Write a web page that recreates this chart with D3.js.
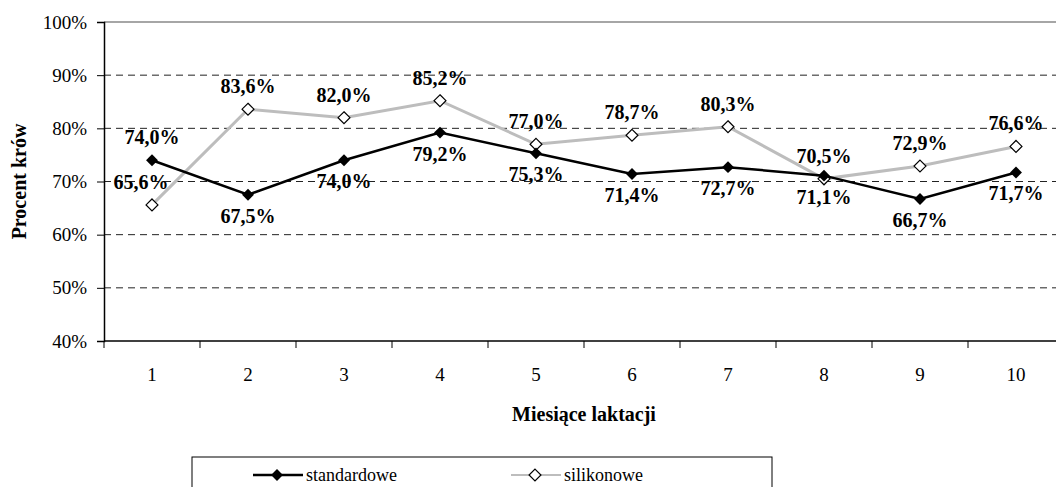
<!DOCTYPE html>
<html>
<head>
<meta charset="utf-8">
<script src="https://cdn.jsdelivr.net/npm/d3@7"></script>
<style>
  body { margin: 0; background: #fff; }
  svg text { font-family: "Liberation Serif", "Times New Roman", serif; }
</style>
</head>
<body>
<svg id="chart"></svg>
<script>
// data
const months = ["1", "2", "3", "4", "5", "6", "7", "8", "9", "10"];
const standardowe = [74.0, 67.5, 74.0, 79.2, 75.3, 71.4, 72.7, 71.1, 66.7, 71.7];
const silikonowe = [65.6, 83.6, 82.0, 85.2, 77.0, 78.7, 80.3, 70.5, 72.9, 76.6];
const yTicks = [40, 50, 60, 70, 80, 90, 100];
// where each data label sits relative to its marker
const stdLabelPos = ["above", "below", "below", "below", "below", "below", "below", "below", "below", "below"];
const silLabelPos = ["left", "above", "above", "above", "above", "above", "above", "above", "above", "above"];

const W = 1056, H = 487;
const margin = { top: 22, left: 104 };
const plotW = 960, plotH = 319;

const svg = d3.select('#chart').attr('width', W).attr('height', H);

const x = d3.scaleBand().domain(months).range([margin.left, margin.left + plotW]);
const y = d3.scaleLinear().domain([40, 100]).range([margin.top + plotH, margin.top]);
const cx = d => x(d) + x.bandwidth() / 2;
const fmt = v => v.toFixed(1).replace('.', ',') + '%';

// gridlines
svg.append('g').selectAll('line')
  .data(yTicks.filter(t => t > 40 && t < 100))
  .join('line')
  .attr('x1', margin.left).attr('x2', margin.left + plotW)
  .attr('y1', d => y(d)).attr('y2', d => y(d))
  .attr('stroke', '#222').attr('stroke-width', 1)
  .attr('stroke-dasharray', '7,5');

// plot area top border
svg.append('line')
  .attr('x1', margin.left).attr('x2', margin.left + plotW)
  .attr('y1', y(100)).attr('y2', y(100))
  .attr('stroke', '#888').attr('stroke-width', 1.5);

// y axis
const yAxis = d3.axisLeft(y).tickValues(yTicks).tickFormat(d => d + '%').tickSize(7).tickPadding(10);
const yG = svg.append('g').attr('transform', `translate(${margin.left},0)`).call(yAxis);
yG.select('.domain').attr('stroke', '#000').attr('stroke-width', 1.5);
yG.selectAll('.tick line').attr('stroke', '#000');
yG.selectAll('.tick text').attr('font-size', '19px').attr('fill', '#000');

// x axis (ticks between categories)
const xG = svg.append('g').attr('transform', `translate(0,${margin.top + plotH})`);
xG.append('line')
  .attr('x1', margin.left).attr('x2', margin.left + plotW)
  .attr('stroke', '#000').attr('stroke-width', 1.5);
xG.selectAll('.tk').data(months.concat(['end']))
  .join('line').attr('class', 'tk')
  .attr('x1', (d, i) => margin.left + i * x.bandwidth())
  .attr('x2', (d, i) => margin.left + i * x.bandwidth())
  .attr('y1', 0).attr('y2', 7)
  .attr('stroke', '#000');
xG.selectAll('text').data(months).join('text')
  .attr('x', d => cx(d)).attr('y', 40)
  .attr('text-anchor', 'middle')
  .attr('font-size', '19px')
  .text(d => d);

// axis titles
svg.append('text')
  .attr('x', margin.left + plotW / 2).attr('y', 421)
  .attr('text-anchor', 'middle')
  .attr('font-size', '20px').attr('font-weight', 'bold')
  .text('Miesiące laktacji');
svg.append('text')
  .attr('transform', `translate(26,${margin.top + plotH / 2}) rotate(-90)`)
  .attr('text-anchor', 'middle')
  .attr('font-size', '20px').attr('font-weight', 'bold')
  .text('Procent krów');

// lines
const line = d3.line().x((d, i) => cx(months[i])).y(d => y(d));
svg.append('path').datum(silikonowe)
  .attr('d', line).attr('fill', 'none')
  .attr('stroke', '#bdbdbd').attr('stroke-width', 3);
svg.append('path').datum(standardowe)
  .attr('d', line).attr('fill', 'none')
  .attr('stroke', '#000').attr('stroke-width', 2.5);

const diamond = d3.symbol().type(d3.symbolDiamond2).size(90);

svg.append('g').selectAll('path').data(silikonowe).join('path')
  .attr('d', diamond)
  .attr('transform', (d, i) => `translate(${cx(months[i])},${y(d)})`)
  .attr('fill', '#fff').attr('stroke', '#000').attr('stroke-width', 1.2);
svg.append('g').selectAll('path').data(standardowe).join('path')
  .attr('d', diamond)
  .attr('transform', (d, i) => `translate(${cx(months[i])},${y(d)})`)
  .attr('fill', '#000');

// data labels
function labels(vals, pos) {
  svg.append('g').selectAll('text').data(vals).join('text')
    .attr('x', (d, i) => cx(months[i]) + (pos[i] === 'left' ? -11 : 0))
    .attr('y', (d, i) => y(d) + (pos[i] === 'below' ? 28 : -16))
    .attr('text-anchor', 'middle')
    .attr('font-size', '20px').attr('font-weight', 'bold')
    .text(d => fmt(d));
}
labels(silikonowe, silLabelPos);
labels(standardowe, stdLabelPos);

// legend
const lg = svg.append('g');
lg.append('rect')
  .attr('x', 192).attr('y', 457).attr('width', 580).attr('height', 40)
  .attr('fill', '#fff').attr('stroke', '#000').attr('stroke-width', 1);
const legendItems = [
  { name: 'standardowe', x: 253, color: '#000', w: 2.5, fill: '#000' },
  { name: 'silikonowe', x: 511, color: '#bdbdbd', w: 2, fill: '#fff' }
];
legendItems.forEach(it => {
  lg.append('line')
    .attr('x1', it.x).attr('x2', it.x + 50)
    .attr('y1', 475).attr('y2', 475)
    .attr('stroke', it.color).attr('stroke-width', it.w);
  lg.append('path').attr('d', diamond)
    .attr('transform', `translate(${it.x + 24},475)`)
    .attr('fill', it.fill).attr('stroke', '#000').attr('stroke-width', it.fill === '#fff' ? 1.2 : 0);
  lg.append('text')
    .attr('x', it.x + 53).attr('y', 481)
    .attr('font-size', '18px')
    .text(it.name);
});
</script>
</body>
</html>
